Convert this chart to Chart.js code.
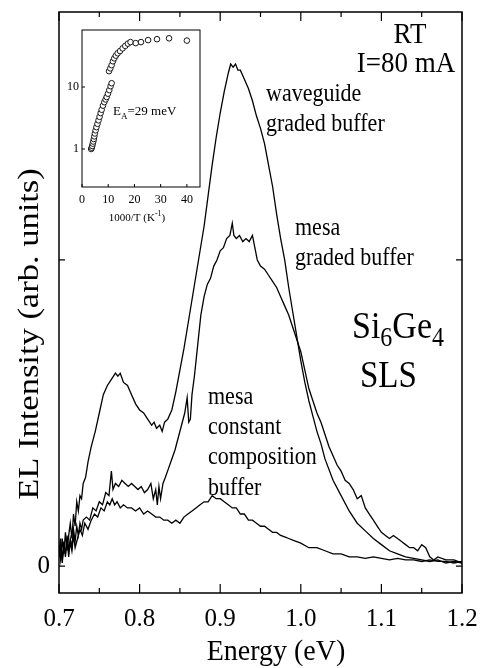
<!DOCTYPE html>
<html lang="en">
<head>
<meta charset="UTF-8">
<title>EL spectra - Si6Ge4 SLS</title>
<script src="https://cdn.jsdelivr.net/npm/chart.js"></script>
<style>
  html, body { margin: 0; padding: 0; background: #fff; }
  #wrap { position: relative; width: 482px; height: 668px; }
  #main { position: absolute; left: 0; top: 0; }
  #inset { position: absolute; left: 50px; top: 20px; }
</style>
</head>
<body>
<div id="wrap">
  <canvas id="main" width="482" height="668"></canvas>
  <canvas id="inset" width="160" height="210"></canvas>
</div>
<script>
  // main panel: EL intensity vs energy (eV), arbitrary units (tick at 1)
  const wgE = [0.700,0.702,0.704,0.706,0.708,0.710,0.712,0.714,0.716,0.718,
    0.720,0.722,0.724,0.726,0.728,0.730,0.733,0.736,0.740,0.745,
    0.750,0.755,0.760,0.765,0.770,0.773,0.776,0.780,0.785,0.790,
    0.795,0.800,0.805,0.810,0.815,0.818,0.821,0.825,0.828,0.831,
    0.835,0.840,0.845,0.850,0.855,0.860,0.865,0.870,0.875,0.880,
    0.885,0.890,0.895,0.900,0.905,0.910,0.913,0.916,0.919,0.922,
    0.925,0.930,0.935,0.940,0.945,0.950,0.955,0.960,0.965,0.970,
    0.975,0.980,0.985,0.990,0.995,1.000,1.005,1.010,1.015,1.020,
    1.025,1.030,1.040,1.050,1.060,1.070,1.080,1.090,1.100,1.110,
    1.120,1.130,1.140,1.150,1.160,1.170,1.180,1.190,1.200];
  const wgI = [0.06,0.02,0.09,0.04,0.11,0.05,0.10,0.14,0.09,0.17,
    0.13,0.21,0.18,0.23,0.22,0.27,0.29,0.34,0.39,0.44,
    0.50,0.56,0.59,0.61,0.63,0.62,0.63,0.60,0.59,0.56,
    0.53,0.51,0.50,0.48,0.46,0.47,0.45,0.46,0.44,0.47,
    0.48,0.51,0.57,0.64,0.71,0.79,0.87,0.95,1.03,1.11,
    1.21,1.31,1.40,1.48,1.55,1.61,1.64,1.63,1.64,1.62,
    1.62,1.59,1.56,1.52,1.47,1.43,1.38,1.31,1.24,1.15,
    1.07,1.00,0.91,0.83,0.75,0.67,0.60,0.54,0.49,0.44,
    0.40,0.35,0.28,0.23,0.18,0.14,0.115,0.09,0.07,0.05,
    0.04,0.03,0.025,0.02,0.015,0.02,0.01,0.015,0.01];

  const mgE = [0.700,0.702,0.704,0.706,0.708,0.710,0.712,0.714,0.716,0.718,
    0.720,0.722,0.724,0.726,0.728,0.730,0.734,0.738,0.742,0.746,
    0.750,0.754,0.758,0.762,0.765,0.767,0.770,0.774,0.778,0.782,
    0.786,0.790,0.794,0.798,0.802,0.806,0.810,0.814,0.817,0.820,
    0.822,0.824,0.826,0.829,0.832,0.836,0.840,0.844,0.848,0.852,
    0.856,0.859,0.861,0.863,0.865,0.868,0.872,0.876,0.880,0.884,
    0.888,0.892,0.896,0.900,0.904,0.908,0.912,0.915,0.917,0.920,
    0.924,0.928,0.932,0.936,0.940,0.943,0.946,0.950,0.955,0.960,
    0.965,0.970,0.975,0.980,0.985,0.990,0.995,1.000,1.005,1.010,
    1.015,1.020,1.025,1.030,1.035,1.040,1.045,1.050,1.055,1.060,
    1.065,1.070,1.075,1.080,1.085,1.090,1.095,1.100,1.105,1.110,
    1.115,1.120,1.125,1.130,1.135,1.140,1.145,1.150,1.155,1.160,
    1.165,1.170,1.180,1.190,1.200];
  const mgI = [0.04,0.09,0.02,0.08,0.03,0.10,0.05,0.09,0.06,0.12,
    0.08,0.13,0.10,0.14,0.12,0.15,0.16,0.15,0.19,0.18,
    0.21,0.20,0.24,0.23,0.31,0.25,0.27,0.26,0.28,0.27,
    0.26,0.27,0.26,0.25,0.26,0.24,0.25,0.27,0.22,0.25,
    0.20,0.26,0.22,0.27,0.29,0.32,0.35,0.38,0.42,0.46,
    0.50,0.55,0.47,0.48,0.56,0.62,0.72,0.82,0.88,0.92,
    0.94,0.98,1.00,1.03,1.04,1.07,1.08,1.12,1.08,1.07,
    1.08,1.06,1.07,1.06,1.08,1.04,1.00,0.98,0.97,0.95,
    0.93,0.91,0.88,0.85,0.82,0.78,0.74,0.70,0.64,0.58,
    0.54,0.50,0.47,0.43,0.39,0.36,0.33,0.31,0.28,0.27,
    0.25,0.22,0.23,0.19,0.17,0.15,0.13,0.11,0.10,0.09,
    0.10,0.09,0.08,0.07,0.06,0.06,0.05,0.07,0.06,0.03,
    0.02,0.03,0.02,0.02,0.01];

  const ccE = [0.700,0.702,0.704,0.706,0.708,0.710,0.712,0.714,0.716,0.718,
    0.720,0.723,0.726,0.729,0.732,0.736,0.740,0.744,0.748,0.752,
    0.756,0.760,0.763,0.766,0.769,0.772,0.776,0.780,0.785,0.790,
    0.795,0.800,0.805,0.810,0.815,0.820,0.825,0.830,0.835,0.840,
    0.845,0.850,0.855,0.860,0.865,0.870,0.875,0.880,0.885,0.890,
    0.895,0.900,0.905,0.910,0.915,0.920,0.925,0.930,0.935,0.940,
    0.945,0.950,0.955,0.960,0.965,0.970,0.975,0.980,0.985,0.990,
    0.995,1.000,1.010,1.020,1.030,1.040,1.050,1.060,1.070,1.080,
    1.090,1.100,1.110,1.120,1.130,1.140,1.150,1.160,1.170,1.180,
    1.190,1.200];
  const ccI = [0.03,0.07,0.01,0.06,0.04,0.09,0.03,0.08,0.05,0.10,
    0.06,0.09,0.12,0.10,0.14,0.12,0.15,0.17,0.16,0.19,
    0.18,0.21,0.20,0.22,0.20,0.21,0.19,0.20,0.19,0.19,
    0.18,0.19,0.17,0.18,0.17,0.16,0.16,0.15,0.15,0.14,
    0.15,0.14,0.16,0.17,0.18,0.19,0.20,0.21,0.21,0.23,
    0.22,0.22,0.21,0.20,0.19,0.19,0.17,0.17,0.15,0.15,
    0.14,0.13,0.13,0.12,0.11,0.11,0.10,0.095,0.09,0.085,
    0.08,0.075,0.06,0.06,0.05,0.04,0.04,0.03,0.03,0.025,
    0.03,0.025,0.02,0.025,0.02,0.02,0.015,0.02,0.015,0.015,
    0.01,0.015];

  const yTicks = [0, 1];

  // inset: integrated intensity vs 1000/T
  const insetT = [3.5,3.7,3.9,4.1,4.3,4.5,4.7,4.9,5.2,5.5,5.9,6.3,6.7,7.1,7.5,8.0,8.5,9.0,9.4,9.9,10.4,10.9,11.3,
    10.3,10.8,11.3,11.8,12.3,12.9,13.6,14.5,15.5,16.5,17.5,18.5,20.5,22.5,25.2,28.6,33.2,40.0];
  const insetI = [1.0,1.05,1.12,1.22,1.32,1.45,1.6,1.78,2.0,2.25,2.55,2.9,3.3,3.8,4.3,5.0,5.7,6.3,6.9,7.8,8.9,10.3,11.5,
    18,20,22.5,26,29,32,35,38,42,46,50,53,51,53,57,59,61,56];
  const insetYTicks = [1, 10];

  const SERIF = "'Liberation Serif', 'Times New Roman', serif";
  Chart.defaults.font.family = SERIF;
  Chart.defaults.color = '#000';

  const pts = (xs, ys) => xs.map((x, i) => ({ x: x, y: ys[i] }));
  const lineStyle = { borderColor: '#000', borderWidth: 1.3, pointRadius: 0, tension: 0, fill: false };

  // keep the plot box exactly where layout.padding puts it
  const noEdgePad = s => { s.paddingTop = 0; s.paddingBottom = 0; s.paddingLeft = 0; s.paddingRight = 0; };

  // text drawn with a slight vertical stretch, like the scanned figure
  function stext(ctx, str, x, y, size, align, sy) {
    ctx.save();
    ctx.translate(x, y);
    ctx.scale(1, sy || 1.12);
    ctx.font = size + 'px ' + SERIF;
    ctx.textAlign = align || 'left';
    ctx.textBaseline = 'alphabetic';
    ctx.fillStyle = '#000';
    ctx.fillText(str, 0, 0);
    ctx.restore();
  }

  const mainDecor = {
    id: 'mainDecor',
    afterDraw(chart) {
      const { ctx, chartArea: a, scales: { x, y } } = chart;
      ctx.save();
      ctx.strokeStyle = '#000';
      ctx.lineWidth = 1.5;
      ctx.strokeRect(a.left, a.top, a.right - a.left, a.bottom - a.top);
      ctx.lineWidth = 1.2;
      ctx.beginPath();
      x.ticks.forEach(t => {
        const px = x.getPixelForValue(t.value);
        const major = Math.abs(t.value * 10 - Math.round(t.value * 10)) < 1e-6;
        const len = major ? 9 : 5;
        ctx.moveTo(px, a.bottom); ctx.lineTo(px, a.bottom - len);
        ctx.moveTo(px, a.top); ctx.lineTo(px, a.top + len);
      });
      yTicks.forEach(v => {
        const py = y.getPixelForValue(v);
        ctx.moveTo(a.left, py); ctx.lineTo(a.left + 6, py);
        ctx.moveTo(a.right, py); ctx.lineTo(a.right - 6, py);
      });
      ctx.stroke();
      ctx.restore();

      // axis titles
      ctx.save();
      ctx.translate(30, 334);
      ctx.rotate(-Math.PI / 2);
      ctx.scale(1.15, 1);
      ctx.font = '30px ' + SERIF;
      ctx.textAlign = 'center';
      ctx.textBaseline = 'middle';
      ctx.fillStyle = '#000';
      ctx.fillText('EL Intensity (arb. units)', 0, 0);
      ctx.restore();
      stext(ctx, 'Energy (eV)', 276, 660, 28, 'center', 1.05);

      // annotations
      stext(ctx, 'RT', 410, 43, 27, 'center');
      stext(ctx, 'I=80 mA', 406, 72, 27, 'center');
      stext(ctx, 'waveguide', 266, 101, 22);
      stext(ctx, 'graded buffer', 266, 131, 22);
      stext(ctx, 'mesa', 295, 235, 22);
      stext(ctx, 'graded buffer', 295, 265, 22);
      stext(ctx, 'mesa', 208, 404, 22);
      stext(ctx, 'constant', 208, 434, 22);
      stext(ctx, 'composition', 208, 464, 22);
      stext(ctx, 'buffer', 208, 495, 22);

      // Si6Ge4 with subscripts
      let cx = 352;
      const parts = [['Si', 34, 0], ['6', 24, 8], ['Ge', 34, 0], ['4', 24, 8]];
      parts.forEach(p => {
        ctx.font = p[1] + 'px ' + SERIF;
        const w = ctx.measureText(p[0]).width;
        stext(ctx, p[0], cx, 338 + p[2], p[1]);
        cx += w;
      });
      stext(ctx, 'SLS', 360, 387, 33);
    }
  };

  new Chart(document.getElementById('main'), {
    type: 'line',
    data: {
      datasets: [
        Object.assign({ label: 'waveguide graded buffer', data: pts(wgE, wgI) }, lineStyle),
        Object.assign({ label: 'mesa graded buffer', data: pts(mgE, mgI) }, lineStyle),
        Object.assign({ label: 'mesa constant composition buffer', data: pts(ccE, ccI) }, lineStyle)
      ]
    },
    options: {
      responsive: false,
      animation: false,
      layout: { padding: { top: 12, right: 20, left: 0, bottom: 0 } },
      plugins: { legend: { display: false }, tooltip: { enabled: false } },
      scales: {
        x: {
          type: 'linear', min: 0.7, max: 1.2,
          grid: { display: false, drawTicks: false },
          border: { display: false },
          ticks: {
            stepSize: 0.05, padding: 11, maxRotation: 0, autoSkip: false,
            font: { size: 25 }, color: '#000',
            callback: v => Math.abs(v * 10 - Math.round(v * 10)) < 1e-6 ? v.toFixed(1) : ''
          },
          afterFit: s => { s.height = 75; noEdgePad(s); }
        },
        y: {
          type: 'linear', min: -0.088, max: 1.81,
          grid: { display: false, drawTicks: false },
          border: { display: false },
          afterBuildTicks: s => { s.ticks = yTicks.map(v => ({ value: v })); },
          ticks: {
            padding: 9, font: { size: 25 }, color: '#000',
            callback: v => v === 0 ? '0' : ''
          },
          afterFit: s => { s.width = 59; noEdgePad(s); }
        }
      }
    },
    plugins: [mainDecor]
  });

  const insetDecor = {
    id: 'insetDecor',
    afterDraw(chart) {
      const { ctx, chartArea: a, scales: { x, y } } = chart;
      ctx.save();
      ctx.strokeStyle = '#000';
      ctx.lineWidth = 1;
      ctx.strokeRect(a.left, a.top, a.right - a.left, a.bottom - a.top);
      ctx.beginPath();
      x.ticks.forEach(t => {
        const px = x.getPixelForValue(t.value);
        ctx.moveTo(px, a.bottom); ctx.lineTo(px, a.bottom - 3);
      });
      insetYTicks.forEach(v => {
        const py = y.getPixelForValue(v);
        ctx.moveTo(a.left, py); ctx.lineTo(a.left + 3, py);
      });
      ctx.stroke();
      ctx.restore();

      // E_A label
      ctx.save();
      ctx.fillStyle = '#000';
      ctx.textBaseline = 'alphabetic';
      let cx = 63;
      ctx.font = '13px ' + SERIF;
      ctx.fillText('E', cx, 95);
      cx += ctx.measureText('E').width;
      ctx.font = '9px ' + SERIF;
      ctx.fillText('A', cx, 99);
      cx += ctx.measureText('A').width;
      ctx.font = '13px ' + SERIF;
      ctx.fillText('=29 meV', cx, 95);

      // axis title 1000/T (K^-1)
      const a1 = '1000/T (K', a2 = '-1', a3 = ')';
      ctx.font = '11px ' + SERIF;
      const w1 = ctx.measureText(a1).width, w3 = ctx.measureText(a3).width;
      ctx.font = '8px ' + SERIF;
      const w2 = ctx.measureText(a2).width;
      let tx = 87 - (w1 + w2 + w3) / 2;
      ctx.font = '11px ' + SERIF;
      ctx.fillText(a1, tx, 201);
      tx += w1;
      ctx.font = '8px ' + SERIF;
      ctx.fillText(a2, tx, 196);
      tx += w2;
      ctx.font = '11px ' + SERIF;
      ctx.fillText(a3, tx, 201);
      ctx.restore();
    }
  };

  new Chart(document.getElementById('inset'), {
    type: 'line',
    data: {
      datasets: [{
        label: 'integrated EL',
        data: pts(insetT, insetI),
        showLine: false,
        pointRadius: 2.8,
        pointBorderWidth: 0.9,
        pointBorderColor: '#000',
        pointBackgroundColor: '#fff'
      }]
    },
    options: {
      responsive: false,
      animation: false,
      layout: { padding: { top: 10, right: 10, left: 0, bottom: 0 } },
      plugins: { legend: { display: false }, tooltip: { enabled: false } },
      scales: {
        x: {
          type: 'linear', min: 0, max: 45,
          grid: { display: false, drawTicks: false },
          border: { display: false },
          ticks: { stepSize: 10, includeBounds: false, padding: 6, maxRotation: 0, font: { size: 12 }, color: '#000' },
          afterFit: s => { s.height = 43; noEdgePad(s); }
        },
        y: {
          type: 'logarithmic', min: 0.244, max: 83,
          grid: { display: false, drawTicks: false },
          border: { display: false },
          afterBuildTicks: s => { s.ticks = insetYTicks.map(v => ({ value: v })); },
          ticks: { padding: 3, font: { size: 12 }, color: '#000', callback: v => String(v) },
          afterFit: s => { s.width = 32; noEdgePad(s); }
        }
      }
    },
    plugins: [insetDecor]
  });
</script>
</body>
</html>
